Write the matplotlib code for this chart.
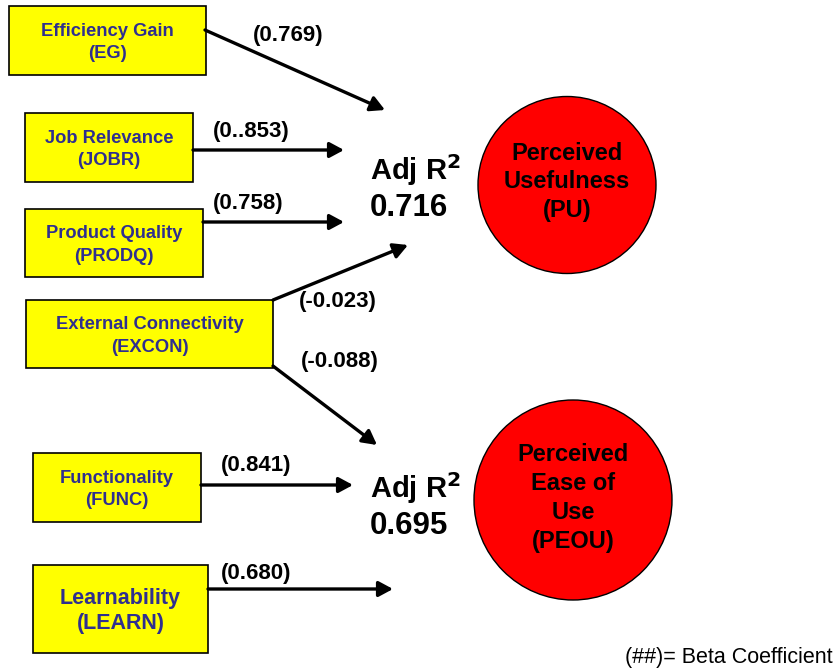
import matplotlib
matplotlib.use("Agg")
import matplotlib.pyplot as plt
from matplotlib.patches import Rectangle, Ellipse, FancyArrowPatch

# ---- data ----
box_labels = ["Efficiency Gain\n(EG)", "Job Relevance\n(JOBR)", "Product Quality\n(PRODQ)",
              "External Connectivity\n(EXCON)", "Functionality\n(FUNC)", "Learnability\n(LEARN)"]
box_fontsizes = [13.2, 13.2, 13.2, 13.2, 13.2, 15.5]
box_linespacing = [1.45, 1.45, 1.45, 1.45, 1.45, 1.25]
beta_labels = ["(0.769)", "(0..853)", "(0.758)", "(-0.023)", "(-0.088)", "(0.841)", "(0.680)"]
outcome_labels = ["Perceived\nUsefulness\n(PU)", "Perceived\nEase of\nUse\n(PEOU)"]
adj_r2_values = ["0.716", "0.695"]
note_text = "(##)= Beta Coefficient"

# ---- layout (pixel coordinates, y downward) ----
box_rects = [(9, 6, 197, 69), (25, 113, 168, 69), (25, 209, 178, 68),
             (26, 300, 247, 68), (33, 453, 168, 69), (33, 565, 175, 88)]
arrows = [((205, 30), (385, 110)), ((193, 150), (344, 150)), ((203, 222), (344, 222)),
          ((273, 300), (408, 245)), ((273, 366), (377, 445)),
          ((201, 485), (353, 485)), ((208, 589), (393, 589))]
beta_pos = [(288, 36), (251, 131), (248, 203), (338, 302), (340, 362), (256, 466), (256, 574)]
r2_pos = [(370, 170), (370, 488)]
r2_val_pos = [(370, 208), (370, 526)]
circles = [((567, 185), 178, 177), ((573, 500), 198, 200)]
circle_text_pos = [(567, 182), (573, 498)]

fig = plt.figure(figsize=(8.36, 6.71), dpi=100)
ax = fig.add_axes([0, 0, 1, 1])
ax.set_xlim(0, 836)
ax.set_ylim(671, 0)
ax.axis("off")

navy = "#2f2f8f"
for (x, y, w, h), lab, fs, ls in zip(box_rects, box_labels, box_fontsizes, box_linespacing):
    ax.add_patch(Rectangle((x, y), w, h, facecolor="#ffff00", edgecolor="black", lw=1.2, zorder=2))
    ax.text(x + w / 2, y + h / 2 + 2, lab, ha="center", va="center", fontsize=fs,
            fontweight="bold", color=navy, family="Liberation Sans", linespacing=ls, zorder=3)

for (p0, p1) in arrows:
    ax.add_patch(FancyArrowPatch(p0, p1, arrowstyle="-|>,head_length=3.9,head_width=2.1",
                                 mutation_scale=2.2, lw=2.4, color="black", shrinkA=0, shrinkB=0, zorder=4))

for (x, y), lab in zip(beta_pos, beta_labels):
    ax.text(x, y, lab, ha="center", va="center", fontsize=16, fontweight="bold",
            family="Liberation Sans", color="black", zorder=5)

for (x, y), (vx, vy), val in zip(r2_pos, r2_val_pos, adj_r2_values):
    ax.text(x, y, r"Adj R$^\mathbf{2}$", ha="left", va="center", fontsize=21, fontweight="bold",
            family="Liberation Sans", color="black")
    ax.text(vx, vy, val, ha="left", va="center", fontsize=22.5, fontweight="bold",
            family="Liberation Sans", color="black")

for ((cx, cy), w, h), (tx, ty), lab in zip(circles, circle_text_pos, outcome_labels):
    ax.add_patch(Ellipse((cx, cy), w, h, facecolor="#ff0000", edgecolor="black", lw=1.0, zorder=2))
    ax.text(tx, ty, lab, ha="center", va="center", fontsize=17, fontweight="bold",
            family="Liberation Sans", color="black", linespacing=1.33, zorder=3)

ax.text(833, 658, note_text, ha="right", va="center", fontsize=15.5,
        family="Liberation Sans", color="black")

fig.savefig("out.png", dpi=100)
